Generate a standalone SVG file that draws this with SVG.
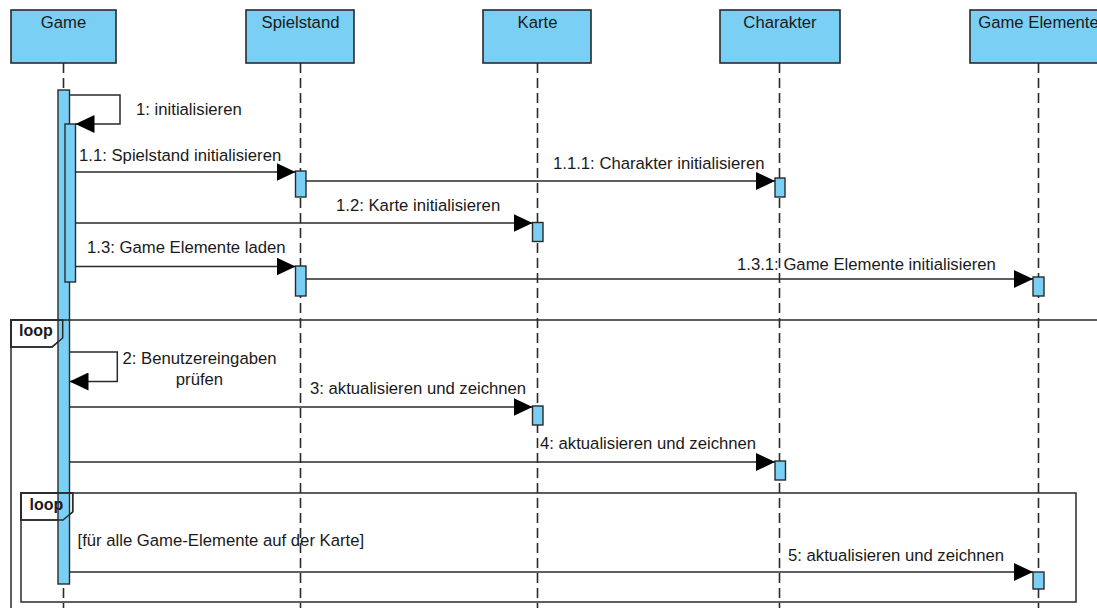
<svg xmlns="http://www.w3.org/2000/svg" width="1097" height="608" viewBox="0 0 1097 608">
  <defs>
    <style>
      text { font-family: "Liberation Sans", Arial, sans-serif; font-size: 16.7px; fill: #1a1a1a; }
      .head { fill: #7acff4; stroke: #2a2a2a; stroke-width: 1.6; }
      .life { stroke: #2a2a2a; stroke-width: 1.6; stroke-dasharray: 10 5; fill: none; }
      .act { fill: #7acff4; stroke: #2a2a2a; stroke-width: 1.4; }
      .msg { stroke: #2a2a2a; stroke-width: 1.5; fill: none; }
      .frame { stroke: #2a2a2a; stroke-width: 1.5; fill: none; }
      .tab { fill: #ffffff; stroke: #2a2a2a; stroke-width: 1.5; }
      .kw { font-weight: bold; font-size: 16px; }
    </style>
    <marker id="arrow" viewBox="0 0 19 18" refX="19" refY="9" markerWidth="19" markerHeight="18" markerUnits="userSpaceOnUse" orient="auto">
      <path d="M0,0 L19,9 L0,18 Z" fill="#000"/>
    </marker>
  </defs>

  <!-- lifelines -->
  <g id="lifelines">
    <line class="life" x1="63.5" y1="63" x2="63.5" y2="608"/>
    <line class="life" x1="300.5" y1="63" x2="300.5" y2="608"/>
    <line class="life" x1="537.5" y1="63" x2="537.5" y2="608"/>
    <line class="life" x1="779.5" y1="63" x2="779.5" y2="608"/>
    <line class="life" x1="1038.5" y1="63" x2="1038.5" y2="608"/>
  </g>

  <!-- participants -->
  <g id="game">
    <rect class="head" x="11" y="10" width="105" height="53"/>
    <text x="63.5" y="27.5" text-anchor="middle">Game</text>
  </g>
  <g id="spielstand">
    <rect class="head" x="246" y="10" width="108" height="53"/>
    <text x="300.5" y="27.5" text-anchor="middle">Spielstand</text>
  </g>
  <g id="karte">
    <rect class="head" x="483" y="10" width="108" height="53"/>
    <text x="537.5" y="27.5" text-anchor="middle">Karte</text>
  </g>
  <g id="charakter">
    <rect class="head" x="720" y="10" width="120" height="53"/>
    <text x="780" y="27.5" text-anchor="middle">Charakter</text>
  </g>
  <g id="game-elemente">
    <rect class="head" x="970" y="10" width="140" height="53"/>
    <text x="1038.5" y="27.5" text-anchor="middle">Game Elemente</text>
  </g>

  <!-- combined fragment tabs (white fill underneath the bars) -->
  <g id="loop-tabs">
    <path class="tab" d="M11,320 H62.7 V338 L52,347 H11 Z"/>
    <path class="tab" d="M21,493 H72.7 V512 L63,520 H21 Z"/>
  </g>

  <!-- activation bars -->
  <g id="activations">
    <rect class="act" x="58" y="90" width="11.5" height="494"/>
    <rect class="act" x="65" y="124" width="10.5" height="158"/>
    <rect class="act" x="295.5" y="171" width="10.5" height="26"/>
    <rect class="act" x="295.5" y="266" width="10.5" height="30"/>
    <rect class="act" x="532.5" y="222.5" width="10.5" height="19"/>
    <rect class="act" x="532.5" y="406" width="10.5" height="19"/>
    <rect class="act" x="775" y="178" width="10" height="19"/>
    <rect class="act" x="775" y="461" width="10.5" height="19"/>
    <rect class="act" x="1033" y="277" width="11" height="19"/>
    <rect class="act" x="1033" y="572" width="11" height="17"/>
  </g>

  <!-- loop frames -->
  <g id="loop-frames">
    <path class="frame" d="M1097,320 H11 V608"/>
    <path class="tab" d="M11,320 H62.7 V338 L52,347 H11 Z" style="fill:none"/>
    <text class="kw" x="19" y="336">loop</text>
    <rect class="frame" x="21" y="493" width="1055" height="109"/>
    <path class="tab" d="M21,493 H72.7 V512 L63,520 H21 Z" style="fill:none"/>
    <text class="kw" x="29.5" y="510">loop</text>
    <text x="77.5" y="546">[für alle Game-Elemente auf der Karte]</text>
  </g>

  <!-- messages -->
  <g id="connectors">
    <polyline class="msg" points="70,95 120,95 120,124 75.5,124" marker-end="url(#arrow)"/>
    <line class="msg" x1="75.5" y1="172" x2="295.5" y2="172" marker-end="url(#arrow)"/>
    <line class="msg" x1="306" y1="181" x2="775" y2="181" marker-end="url(#arrow)"/>
    <line class="msg" x1="75.5" y1="223" x2="532.5" y2="223" marker-end="url(#arrow)"/>
    <line class="msg" x1="75.5" y1="266.5" x2="295.5" y2="266.5" marker-end="url(#arrow)"/>
    <line class="msg" x1="306" y1="279" x2="1033" y2="279" marker-end="url(#arrow)"/>
    <polyline class="msg" points="70,352 117.3,352 117.3,381.5 69.5,381.5" marker-end="url(#arrow)"/>
    <line class="msg" x1="69.5" y1="407" x2="532.5" y2="407" marker-end="url(#arrow)"/>
    <line class="msg" x1="69.5" y1="462" x2="775" y2="462" marker-end="url(#arrow)"/>
    <line class="msg" x1="69.5" y1="572" x2="1033" y2="572" marker-end="url(#arrow)"/>
  </g>

  <!-- message labels -->
  <g id="labels">
    <text x="136" y="114.5">1: initialisieren</text>
    <text x="79" y="161">1.1: Spielstand initialisieren</text>
    <text x="553" y="168.5">1.1.1: Charakter initialisieren</text>
    <text x="336" y="211">1.2: Karte initialisieren</text>
    <text x="87" y="252.5">1.3: Game Elemente laden</text>
    <text x="737" y="269.5">1.3.1: Game Elemente initialisieren</text>
    <text x="199.5" y="364" text-anchor="middle">2: Benutzereingaben</text>
    <text x="199.5" y="385" text-anchor="middle">prüfen</text>
    <text x="310" y="394">3: aktualisieren und zeichnen</text>
    <text x="540" y="449">4: aktualisieren und zeichnen</text>
    <text x="788" y="560.5">5: aktualisieren und zeichnen</text>
  </g>
</svg>
